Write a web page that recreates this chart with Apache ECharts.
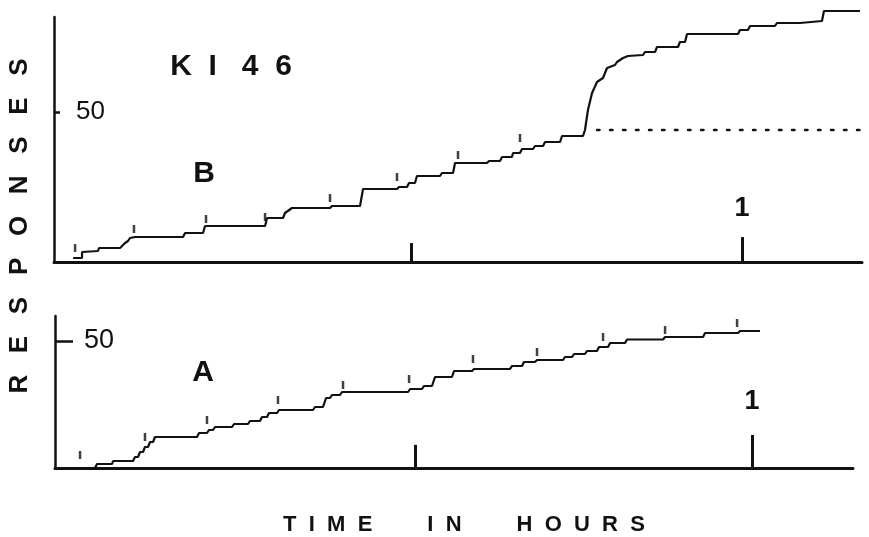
<!DOCTYPE html>
<html><head><meta charset="utf-8">
<script src="https://cdn.jsdelivr.net/npm/echarts@6/dist/echarts.min.js"></script>
<style>html,body{margin:0;padding:0;background:#fff}#c{width:869px;height:537px}</style>
</head><body><div id="c"></div>
<script>
// Time in minutes, responses cumulative
const curveB_t = [-0.63,0.18,0.18,1.63,1.72,3.63,3.81,4.08,4.35,4.53,4.98,9.34,9.52,11.15,11.33,16.77,16.95,18.40,18.58,19.21,22.66,22.84,25.38,25.65,28.73,28.91,29.64,29.82,30.36,30.54,32.63,32.81,33.81,33.99,36.89,37.07,38.07,38.25,39.15,39.25,39.88,40.06,41.06,41.24,41.97,42.15,43.51,43.69,45.59,45.77,46.04,46.41,46.86,47.40,47.77,48.49,48.67,49.22,49.67,51.03,51.21,52.12,52.30,54.20,54.38,54.84,55.02,59.64,59.82,60.54,60.73,62.99,63.17,65.26,65.44,67.25,67.43,70.70];
const curveB_r = [1.33,1.33,3.33,3.67,4.67,4.67,5.33,6.33,7.0,8.0,8.33,8.33,9.67,9.67,12.0,12.0,14.67,14.67,16.33,18.0,18.0,18.67,18.67,24.33,24.33,25.0,25.0,26.33,26.33,28.67,28.67,29.67,29.67,33.0,33.0,33.67,33.67,35.0,35.0,36.33,36.33,37.67,37.67,38.67,38.67,40.0,40.0,42.0,42.0,44.0,50.67,56.33,60.0,61.33,64.67,65.67,66.67,68.0,68.67,69.0,70.0,70.0,71.67,71.67,73.33,73.33,76.0,76.0,77.33,77.33,78.67,78.67,79.67,79.67,80.33,80.33,83.67,83.67];
const pipsB_t = [-0.45,4.89,11.42,16.77,22.66,28.73,34.26,39.88];
const pipsB_r = [4.67,11.0,14.33,15.0,21.33,28.33,35.67,41.33];
const extinctionB_t = [46.86,70.9];
const extinctionB_r = [44,44];

const curveA_t = [0.18,1.51,1.69,3.03,3.12,4.90,5.07,5.34,5.52,5.79,5.96,6.23,6.41,6.68,6.85,10.59,10.77,11.48,11.66,12.02,12.20,13.71,13.89,15.13,15.31,16.20,16.38,16.83,17.00,17.72,17.89,20.92,21.10,21.81,22.08,22.43,22.61,23.32,23.50,29.38,29.56,30.62,30.80,31.51,31.78,33.29,33.47,35.08,35.25,38.46,38.64,39.53,39.70,40.68,40.86,43.18,43.35,43.98,44.16,45.13,45.31,46.20,46.38,47.18,47.36,48.70,48.87,52.08,52.26,55.64,55.82,58.76,58.93,60.71];
const curveA_r = [0,0,1.57,1.57,2.76,2.76,4.33,4.33,6.30,6.30,8.27,8.27,10.24,10.24,12.20,12.20,13.78,13.78,14.96,14.96,16.14,16.14,17.32,17.32,18.50,18.50,20.08,20.08,21.65,21.65,22.83,22.83,24.02,24.02,27.56,27.56,28.74,28.74,29.92,29.92,31.10,31.10,32.28,32.28,35.83,35.83,38.19,38.19,38.98,38.98,40.16,40.16,41.73,41.73,42.52,42.52,43.70,43.70,44.88,44.88,46.06,46.06,47.64,47.64,49.21,49.21,50.59,50.59,51.57,51.57,53.15,53.15,53.94,53.94];
const pipsA_t = [0.18,5.96,11.48,17.80,23.59,29.47,35.16,40.86,46.74,52.26,58.67];
const pipsA_r = [5.12,12.20,18.90,26.77,32.68,35.04,42.91,45.67,51.57,54.33,57.09];

const hourTicks = [30, 60];
const tickHeightsB = [6.3, 8.3];
const tickHeightsA = [9.1, 13];
const yTickValue = 50;
const hourLabel = '1';

const zip = (a, b) => a.map((v, i) => [v, b[i]]);
const FONT = 'Liberation Sans';
const black = '#111';

function tickLines(hs) {
  return hourTicks.map((t, i) => [{coord: [t, 0]}, {coord: [t, hs[i]]}]);
}

const chart = echarts.init(document.getElementById('c'), null, {renderer: 'canvas'});
chart.setOption({
  animation: false,
  backgroundColor: '#fff',
  grid: [
    {left: 54, right: 7, top: 17, bottom: 275},
    {left: 55, right: 16, top: 316, bottom: 69}
  ],
  xAxis: [
    {gridIndex: 0, type: 'value', min: -2.36, max: 70.88,
     axisLine: {lineStyle: {color: black, width: 3}}, axisTick: {show: false}, splitLine: {show: false},
     axisLabel: {inside: true, margin: 40, customValues: [60], formatter: () => hourLabel,
                 color: black, fontFamily: FONT, fontWeight: 'bold', fontSize: 27}},
    {gridIndex: 1, type: 'value', min: -2.05, max: 68.99,
     axisLine: {lineStyle: {color: black, width: 3}}, axisTick: {show: false}, splitLine: {show: false},
     axisLabel: {inside: true, margin: 53, customValues: [60], formatter: () => hourLabel,
                 color: black, fontFamily: FONT, fontWeight: 'bold', fontSize: 27}}
  ],
  yAxis: [
    {gridIndex: 0, type: 'value', min: 0, max: 81.67,
     axisLine: {show: true, onZero: false, lineStyle: {color: black, width: 2.5}},
     axisTick: {show: true, inside: true, length: 6, customValues: [yTickValue], lineStyle: {color: black, width: 2.5}},
     axisLabel: {inside: true, margin: 22, customValues: [yTickValue], color: black, fontFamily: FONT, fontSize: 26},
     splitLine: {show: false}},
    {gridIndex: 1, type: 'value', min: 0, max: 59.84,
     axisLine: {show: true, onZero: false, lineStyle: {color: black, width: 2.5}},
     axisTick: {show: true, inside: true, length: 18, customValues: [yTickValue], lineStyle: {color: black, width: 2.5}},
     axisLabel: {inside: true, margin: 29, customValues: [yTickValue], color: black, fontFamily: FONT, fontSize: 27},
     splitLine: {show: false}}
  ],
  series: [
    {type: 'line', xAxisIndex: 0, yAxisIndex: 0, data: zip(curveB_t, curveB_r), showSymbol: false, clip: false,
     lineStyle: {color: black, width: 2.2}, silent: true,
     markLine: {silent: true, symbol: ['none', 'none'], label: {show: false},
                lineStyle: {color: black, width: 3, type: 'solid'}, data: tickLines(tickHeightsB)}},
    {type: 'line', xAxisIndex: 0, yAxisIndex: 0, data: zip(extinctionB_t, extinctionB_r), showSymbol: false,
     lineStyle: {color: black, width: 2.5, type: [2.5, 10.5], cap: 'round'}, silent: true},
    {type: 'scatter', xAxisIndex: 0, yAxisIndex: 0, data: zip(pipsB_t, pipsB_r), symbol: 'rect', symbolSize: [2.5, 8],
     itemStyle: {color: black}, silent: true},
    {type: 'line', xAxisIndex: 1, yAxisIndex: 1, data: zip(curveA_t, curveA_r), showSymbol: false, clip: false,
     lineStyle: {color: black, width: 2.2}, silent: true,
     markLine: {silent: true, symbol: ['none', 'none'], label: {show: false},
                lineStyle: {color: black, width: 3, type: 'solid'}, data: tickLines(tickHeightsA)}},
    {type: 'scatter', xAxisIndex: 1, yAxisIndex: 1, data: zip(pipsA_t, pipsA_r), symbol: 'rect', symbolSize: [2.5, 8],
     itemStyle: {color: black}, silent: true}
  ],
  graphic: [
    {type: 'text', x: 231, y: 67, style: {text: 'K  I   4  6', fontFamily: FONT, fontWeight: 'bold', fontSize: 30, fill: black, align: 'center', verticalAlign: 'middle'}},
    {type: 'text', x: 204, y: 174, style: {text: 'B', fontFamily: FONT, fontWeight: 'bold', fontSize: 30, fill: black, align: 'center', verticalAlign: 'middle'}},
    {type: 'text', x: 203, y: 373, style: {text: 'A', fontFamily: FONT, fontWeight: 'bold', fontSize: 30, fill: black, align: 'center', verticalAlign: 'middle'}},
    {type: 'text', x: 20, y: 226, rotation: Math.PI / 2, style: {text: 'R   E   S   P   O   N   S   E   S', fontFamily: FONT, fontWeight: 'bold', fontSize: 26, fill: black, align: 'center', verticalAlign: 'middle'}},
    {type: 'text', x: 464, y: 525, style: {text: 'T  I  M  E         I  N         H  O  U  R  S', fontFamily: FONT, fontWeight: 'bold', fontSize: 22, fill: black, align: 'center', verticalAlign: 'middle'}}
  ]
});
</script></body></html>
